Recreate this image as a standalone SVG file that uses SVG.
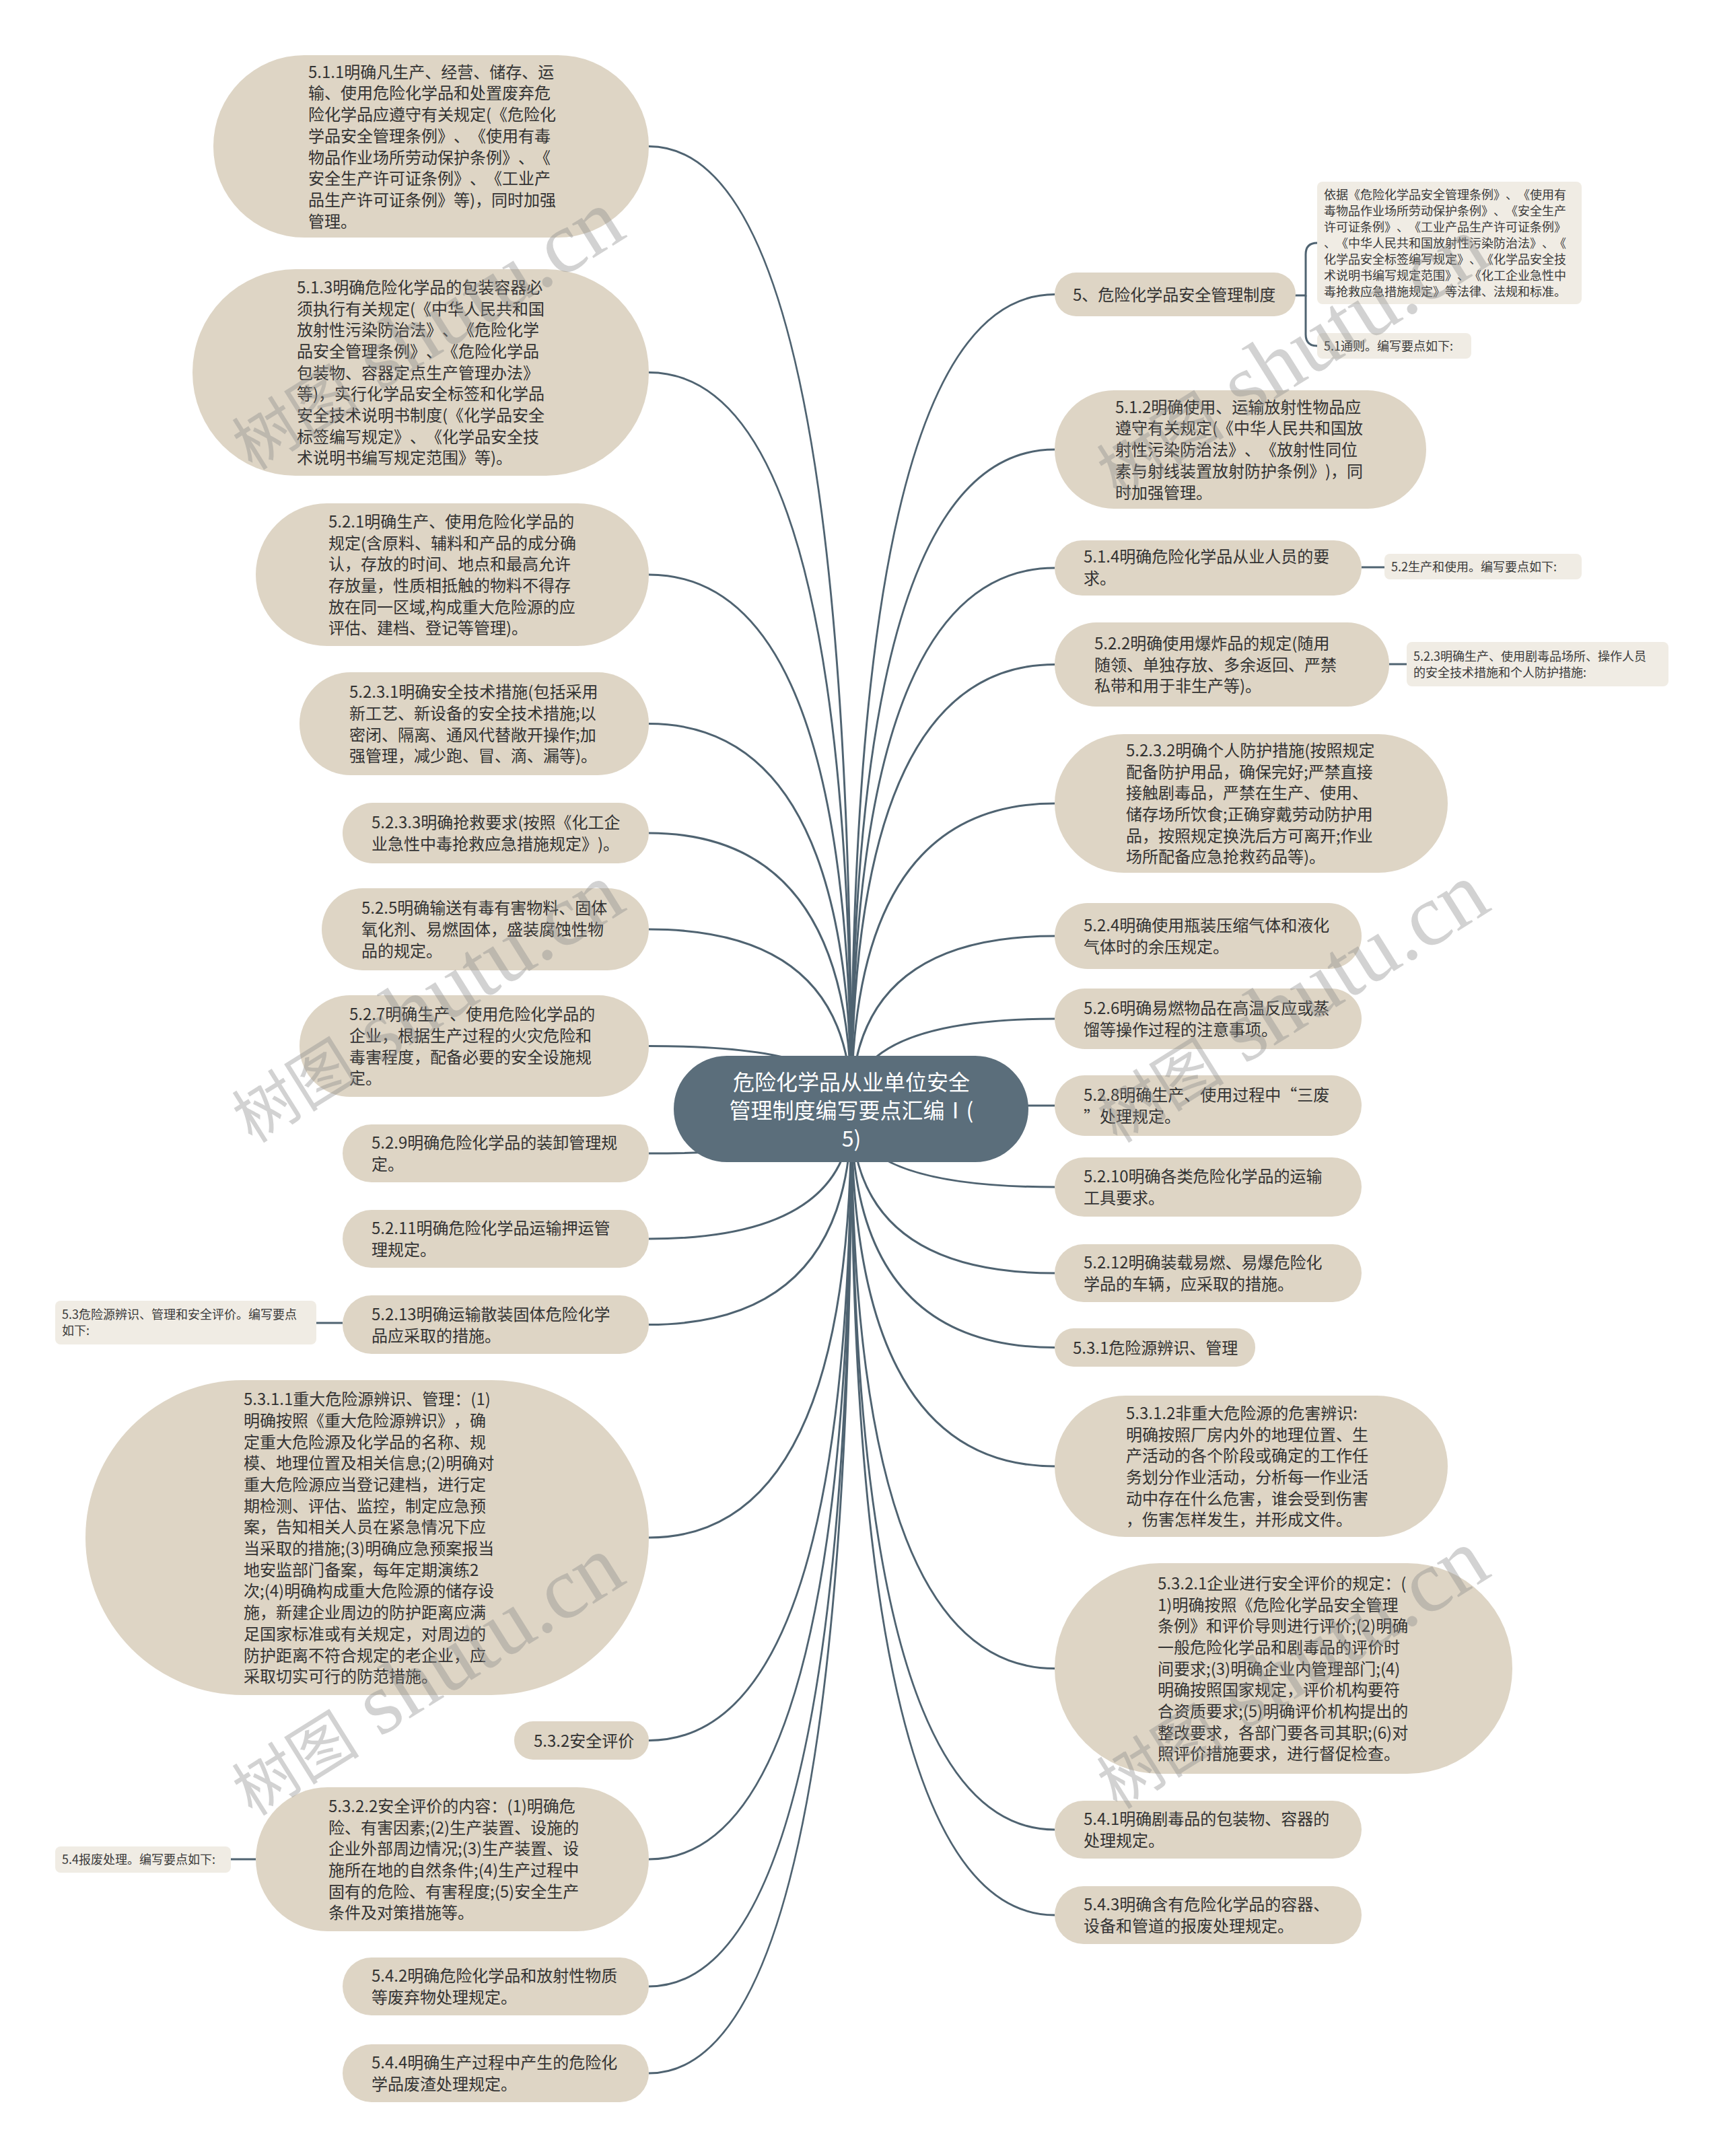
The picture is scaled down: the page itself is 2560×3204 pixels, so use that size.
<svg xmlns="http://www.w3.org/2000/svg" width="2560" height="3204" viewBox="0 0 2560 3204">
<style>
.node{fill:#ded5c5}
.lbl{fill:#f0ece4}
.root{fill:#5b6e7b}
.t,.ts,.tr{text-spacing-trim:space-all;font-feature-settings:"chws" 0,"halt" 0}
.t{font-family:"Noto Sans CJK SC","Noto Sans",sans-serif;font-size:24px;fill:#333333}
.ts{font-family:"Noto Sans CJK SC","Noto Sans",sans-serif;font-size:18px;fill:#3a3a3a}
.tr{font-family:"Noto Sans CJK SC","Noto Sans",sans-serif;font-size:32px;fill:#ffffff;text-anchor:middle}
.edge{fill:none;stroke:#4f6371;stroke-width:3}
.wm{font-family:"Liberation Serif","Noto Sans CJK SC",serif;fill:#8a8a8a;opacity:0.38}
</style>
<rect width="2560" height="3204" fill="#ffffff"/>
<g id="connectors">
<path class="edge" d="M1265,1648 Q1265,217.5 964,217.5"/>
<path class="edge" d="M1265,1648 Q1265,553.5 964,553.5"/>
<path class="edge" d="M1265,1648 Q1265,854 964,854"/>
<path class="edge" d="M1265,1648 Q1265,1075.5 964,1075.5"/>
<path class="edge" d="M1265,1648 Q1265,1238 964,1238"/>
<path class="edge" d="M1265,1648 Q1265,1381 964,1381"/>
<path class="edge" d="M1265,1648 Q1265,1554.5 964,1554.5"/>
<path class="edge" d="M1265,1648 Q1265,1714 964,1714"/>
<path class="edge" d="M1265,1648 Q1265,1841 964,1841"/>
<path class="edge" d="M1265,1648 Q1265,1968.5 964,1968.5"/>
<path class="edge" d="M1265,1648 Q1265,2285 964,2285"/>
<path class="edge" d="M1265,1648 Q1265,2586.5 964,2586.5"/>
<path class="edge" d="M1265,1648 Q1265,2763 964,2763"/>
<path class="edge" d="M1265,1648 Q1265,2952 964,2952"/>
<path class="edge" d="M1265,1648 Q1265,3081 964,3081"/>
<path class="edge" d="M1265,1648 Q1265,437.5 1567,437.5"/>
<path class="edge" d="M1265,1648 Q1265,668 1567,668"/>
<path class="edge" d="M1265,1648 Q1265,844 1567,844"/>
<path class="edge" d="M1265,1648 Q1265,987.5 1567,987.5"/>
<path class="edge" d="M1265,1648 Q1265,1194 1567,1194"/>
<path class="edge" d="M1265,1648 Q1265,1391 1567,1391"/>
<path class="edge" d="M1265,1648 Q1265,1514 1567,1514"/>
<path class="edge" d="M1265,1648 Q1265,1643 1567,1643"/>
<path class="edge" d="M1265,1648 Q1265,1764 1567,1764"/>
<path class="edge" d="M1265,1648 Q1265,1892 1567,1892"/>
<path class="edge" d="M1265,1648 Q1265,2002.5 1567,2002.5"/>
<path class="edge" d="M1265,1648 Q1265,2179 1567,2179"/>
<path class="edge" d="M1265,1648 Q1265,2479.5 1567,2479.5"/>
<path class="edge" d="M1265,1648 Q1265,2719 1567,2719"/>
<path class="edge" d="M1265,1648 Q1265,2846 1567,2846"/>
<path class="edge" d="M1922,439 H1940 V378 Q1940,361 1957,361"/>
<path class="edge" d="M1940,439 V497 Q1940,514 1957,514"/>
<path class="edge" d="M2023,843 H2057"/>
<path class="edge" d="M2064,987 H2090"/>
<path class="edge" d="M470,1966 H509"/>
<path class="edge" d="M343,2763 H380"/>
</g>

<g id="root">
<rect class="root" x="1001" y="1569" width="527" height="158" rx="79"/>
<text class="tr"><tspan x="1265" y="1620">危险化学品从业单位安全</tspan><tspan x="1265" y="1662">管理制度编写要点汇编Ⅰ(</tspan><tspan x="1265" y="1704">5)</tspan></text>
</g>

<g id="n-5-1-1">
<rect class="node" x="317" y="82" width="647" height="271" rx="135"/>
<text class="t"><tspan x="458" y="115.7">5.1.1明确凡生产、经营、储存、运</tspan><tspan x="458" y="147.4">输、使用危险化学品和处置废弃危</tspan><tspan x="458" y="179.1">险化学品应遵守有关规定(《危险化</tspan><tspan x="458" y="210.8">学品安全管理条例》、《使用有毒</tspan><tspan x="458" y="242.5">物品作业场所劳动保护条例》、《</tspan><tspan x="458" y="274.2">安全生产许可证条例》、《工业产</tspan><tspan x="458" y="305.9">品生产许可证条例》等)，同时加强</tspan><tspan x="458" y="337.6">管理。</tspan></text>
</g>

<g id="n-5-1-3">
<rect class="node" x="286" y="400" width="678" height="307" rx="153"/>
<text class="t"><tspan x="441" y="435.8">5.1.3明确危险化学品的包装容器必</tspan><tspan x="441" y="467.5">须执行有关规定(《中华人民共和国</tspan><tspan x="441" y="499.2">放射性污染防治法》、《危险化学</tspan><tspan x="441" y="530.9">品安全管理条例》、《危险化学品</tspan><tspan x="441" y="562.6">包装物、容器定点生产管理办法》</tspan><tspan x="441" y="594.3">等)，实行化学品安全标签和化学品</tspan><tspan x="441" y="626">安全技术说明书制度(《化学品安全</tspan><tspan x="441" y="657.7">标签编写规定》、《化学品安全技</tspan><tspan x="441" y="689.4">术说明书编写规定范围》等)。</tspan></text>
</g>

<g id="n-5-2-1">
<rect class="node" x="380" y="748" width="584" height="212" rx="106"/>
<text class="t"><tspan x="488" y="783.9">5.2.1明确生产、使用危险化学品的</tspan><tspan x="488" y="815.6">规定(含原料、辅料和产品的成分确</tspan><tspan x="488" y="847.3">认，存放的时间、地点和最高允许</tspan><tspan x="488" y="879">存放量，性质相抵触的物料不得存</tspan><tspan x="488" y="910.7">放在同一区域,构成重大危险源的应</tspan><tspan x="488" y="942.4">评估、建档、登记等管理)。</tspan></text>
</g>

<g id="n-5-2-3-1">
<rect class="node" x="445" y="999" width="519" height="153" rx="76"/>
<text class="t"><tspan x="519" y="1037.1">5.2.3.1明确安全技术措施(包括采用</tspan><tspan x="519" y="1068.8">新工艺、新设备的安全技术措施;以</tspan><tspan x="519" y="1100.5">密闭、隔离、通风代替敞开操作;加</tspan><tspan x="519" y="1132.2">强管理，减少跑、冒、滴、漏等)。</tspan></text>
</g>

<g id="n-5-2-3-3">
<rect class="node" x="509" y="1193" width="455" height="90" rx="45"/>
<text class="t"><tspan x="552" y="1231.3">5.2.3.3明确抢救要求(按照《化工企</tspan><tspan x="552" y="1263">业急性中毒抢救应急措施规定》)。</tspan></text>
</g>

<g id="n-5-2-5">
<rect class="node" x="478" y="1320" width="486" height="122" rx="61"/>
<text class="t"><tspan x="537" y="1358.4">5.2.5明确输送有毒有害物料、固体</tspan><tspan x="537" y="1390.1">氧化剂、易燃固体，盛装腐蚀性物</tspan><tspan x="537" y="1421.8">品的规定。</tspan></text>
</g>

<g id="n-5-2-7">
<rect class="node" x="445" y="1479" width="519" height="151" rx="75"/>
<text class="t"><tspan x="519" y="1516.1">5.2.7明确生产、使用危险化学品的</tspan><tspan x="519" y="1547.8">企业，根据生产过程的火灾危险和</tspan><tspan x="519" y="1579.5">毒害程度，配备必要的安全设施规</tspan><tspan x="519" y="1611.2">定。</tspan></text>
</g>

<g id="n-5-2-9">
<rect class="node" x="509" y="1671" width="455" height="86" rx="43"/>
<text class="t"><tspan x="552" y="1707.3">5.2.9明确危险化学品的装卸管理规</tspan><tspan x="552" y="1739">定。</tspan></text>
</g>

<g id="n-5-2-11">
<rect class="node" x="509" y="1798" width="455" height="86" rx="43"/>
<text class="t"><tspan x="552" y="1834.3">5.2.11明确危险化学品运输押运管</tspan><tspan x="552" y="1866">理规定。</tspan></text>
</g>

<g id="n-5-2-13">
<rect class="node" x="509" y="1925" width="455" height="87" rx="43"/>
<text class="t"><tspan x="552" y="1961.8">5.2.13明确运输散装固体危险化学</tspan><tspan x="552" y="1993.5">品应采取的措施。</tspan></text>
</g>

<g id="n-5-3">
<rect class="lbl" x="82" y="1933" width="388" height="65" rx="8"/>
<text class="ts"><tspan x="92" y="1960.3">5.3危险源辨识、管理和安全评价。编写要点</tspan><tspan x="92" y="1984.2">如下:</tspan></text>
</g>

<g id="n-5-3-1-1">
<rect class="node" x="127" y="2051" width="837" height="468" rx="234"/>
<text class="t"><tspan x="362" y="2088.1">5.3.1.1重大危险源辨识、管理：(1)</tspan><tspan x="362" y="2119.8">明确按照《重大危险源辨识》，确</tspan><tspan x="362" y="2151.5">定重大危险源及化学品的名称、规</tspan><tspan x="362" y="2183.2">模、地理位置及相关信息;(2)明确对</tspan><tspan x="362" y="2214.9">重大危险源应当登记建档，进行定</tspan><tspan x="362" y="2246.6">期检测、评估、监控，制定应急预</tspan><tspan x="362" y="2278.3">案，告知相关人员在紧急情况下应</tspan><tspan x="362" y="2310">当采取的措施;(3)明确应急预案报当</tspan><tspan x="362" y="2341.7">地安监部门备案，每年定期演练2</tspan><tspan x="362" y="2373.4">次;(4)明确构成重大危险源的储存设</tspan><tspan x="362" y="2405.1">施，新建企业周边的防护距离应满</tspan><tspan x="362" y="2436.8">足国家标准或有关规定，对周边的</tspan><tspan x="362" y="2468.5">防护距离不符合规定的老企业，应</tspan><tspan x="362" y="2500.2">采取切实可行的防范措施。</tspan></text>
</g>

<g id="n-5-3-2">
<rect class="node" x="764" y="2558" width="200" height="57" rx="28"/>
<text class="t"><tspan x="793" y="2595.6">5.3.2安全评价</tspan></text>
</g>

<g id="n-5-3-2-2">
<rect class="node" x="380" y="2656" width="584" height="214" rx="107"/>
<text class="t"><tspan x="488" y="2692.9">5.3.2.2安全评价的内容：(1)明确危</tspan><tspan x="488" y="2724.6">险、有害因素;(2)生产装置、设施的</tspan><tspan x="488" y="2756.3">企业外部周边情况;(3)生产装置、设</tspan><tspan x="488" y="2788">施所在地的自然条件;(4)生产过程中</tspan><tspan x="488" y="2819.7">固有的危险、有害程度;(5)安全生产</tspan><tspan x="488" y="2851.4">条件及对策措施等。</tspan></text>
</g>

<g id="n-5-4">
<rect class="lbl" x="82" y="2744" width="261" height="39" rx="8"/>
<text class="ts"><tspan x="92" y="2770.3">5.4报废处理。编写要点如下:</tspan></text>
</g>

<g id="n-5-4-2">
<rect class="node" x="509" y="2909" width="455" height="86" rx="43"/>
<text class="t"><tspan x="552" y="2945.3">5.4.2明确危险化学品和放射性物质</tspan><tspan x="552" y="2977">等废弃物处理规定。</tspan></text>
</g>

<g id="n-5-4-4">
<rect class="node" x="509" y="3038" width="455" height="86" rx="43"/>
<text class="t"><tspan x="552" y="3074.3">5.4.4明确生产过程中产生的危险化</tspan><tspan x="552" y="3106">学品废渣处理规定。</tspan></text>
</g>

<g id="n-5">
<rect class="node" x="1567" y="405" width="358" height="65" rx="32"/>
<text class="t"><tspan x="1594" y="446.6">5、危险化学品安全管理制度</tspan></text>
</g>

<g id="n-5-basis">
<rect class="lbl" x="1957" y="270" width="393" height="182" rx="8"/>
<text class="ts"><tspan x="1967" y="296.1">依据《危险化学品安全管理条例》、《使用有</tspan><tspan x="1967" y="320">毒物品作业场所劳动保护条例》、《安全生产</tspan><tspan x="1967" y="343.9">许可证条例》、《工业产品生产许可证条例》</tspan><tspan x="1967" y="367.8">、《中华人民共和国放射性污染防治法》、《</tspan><tspan x="1967" y="391.7">化学品安全标签编写规定》、《化学品安全技</tspan><tspan x="1967" y="415.6">术说明书编写规定范围》、《化工企业急性中</tspan><tspan x="1967" y="439.5">毒抢救应急措施规定》等法律、法规和标准。</tspan></text>
</g>

<g id="n-5-1">
<rect class="lbl" x="1957" y="495" width="229" height="38" rx="8"/>
<text class="ts"><tspan x="1967" y="520.8">5.1通则。编写要点如下:</tspan></text>
</g>

<g id="n-5-1-2">
<rect class="node" x="1567" y="580" width="552" height="176" rx="88"/>
<text class="t"><tspan x="1657" y="613.7">5.1.2明确使用、运输放射性物品应</tspan><tspan x="1657" y="645.4">遵守有关规定(《中华人民共和国放</tspan><tspan x="1657" y="677.1">射性污染防治法》、《放射性同位</tspan><tspan x="1657" y="708.8">素与射线装置放射防护条例》)，同</tspan><tspan x="1657" y="740.5">时加强管理。</tspan></text>
</g>

<g id="n-5-1-4">
<rect class="node" x="1567" y="803" width="456" height="82" rx="41"/>
<text class="t"><tspan x="1610" y="836">5.1.4明确危险化学品从业人员的要</tspan><tspan x="1610" y="867.7">求。</tspan></text>
</g>

<g id="n-5-2">
<rect class="lbl" x="2057" y="823" width="293" height="38" rx="8"/>
<text class="ts"><tspan x="2067" y="848.8">5.2生产和使用。编写要点如下:</tspan></text>
</g>

<g id="n-5-2-2">
<rect class="node" x="1567" y="925" width="497" height="125" rx="62"/>
<text class="t"><tspan x="1626" y="964.9">5.2.2明确使用爆炸品的规定(随用</tspan><tspan x="1626" y="996.6">随领、单独存放、多余返回、严禁</tspan><tspan x="1626" y="1028.3">私带和用于非生产等)。</tspan></text>
</g>

<g id="n-5-2-3">
<rect class="lbl" x="2090" y="954" width="389" height="66" rx="8"/>
<text class="ts"><tspan x="2100" y="981.9">5.2.3明确生产、使用剧毒品场所、操作人员</tspan><tspan x="2100" y="1005.8">的安全技术措施和个人防护措施:</tspan></text>
</g>

<g id="n-5-2-3-2">
<rect class="node" x="1567" y="1091" width="584" height="206" rx="103"/>
<text class="t"><tspan x="1673" y="1123.9">5.2.3.2明确个人防护措施(按照规定</tspan><tspan x="1673" y="1155.6">配备防护用品，确保完好;严禁直接</tspan><tspan x="1673" y="1187.3">接触剧毒品，严禁在生产、使用、</tspan><tspan x="1673" y="1219">储存场所饮食;正确穿戴劳动防护用</tspan><tspan x="1673" y="1250.7">品，按照规定换洗后方可离开;作业</tspan><tspan x="1673" y="1282.4">场所配备应急抢救药品等)。</tspan></text>
</g>

<g id="n-5-2-4">
<rect class="node" x="1567" y="1342" width="456" height="98" rx="49"/>
<text class="t"><tspan x="1610" y="1384.3">5.2.4明确使用瓶装压缩气体和液化</tspan><tspan x="1610" y="1416">气体时的余压规定。</tspan></text>
</g>

<g id="n-5-2-6">
<rect class="node" x="1567" y="1469" width="456" height="90" rx="45"/>
<text class="t"><tspan x="1610" y="1507.3">5.2.6明确易燃物品在高温反应或蒸</tspan><tspan x="1610" y="1539">馏等操作过程的注意事项。</tspan></text>
</g>

<g id="n-5-2-8">
<rect class="node" x="1567" y="1598" width="456" height="90" rx="45"/>
<text class="t"><tspan x="1610" y="1636.3">5.2.8明确生产、使用过程中“三废</tspan><tspan x="1610" y="1668">”处理规定。</tspan></text>
</g>

<g id="n-5-2-10">
<rect class="node" x="1567" y="1720" width="456" height="88" rx="44"/>
<text class="t"><tspan x="1610" y="1757.3">5.2.10明确各类危险化学品的运输</tspan><tspan x="1610" y="1789">工具要求。</tspan></text>
</g>

<g id="n-5-2-12">
<rect class="node" x="1567" y="1849" width="456" height="86" rx="43"/>
<text class="t"><tspan x="1610" y="1885.3">5.2.12明确装载易燃、易爆危险化</tspan><tspan x="1610" y="1917">学品的车辆，应采取的措施。</tspan></text>
</g>

<g id="n-5-3-1">
<rect class="node" x="1567" y="1974" width="298" height="57" rx="28"/>
<text class="t"><tspan x="1594" y="2011.6">5.3.1危险源辨识、管理</tspan></text>
</g>

<g id="n-5-3-1-2">
<rect class="node" x="1567" y="2074" width="584" height="210" rx="105"/>
<text class="t"><tspan x="1673" y="2108.9">5.3.1.2非重大危险源的危害辨识:</tspan><tspan x="1673" y="2140.6">明确按照厂房内外的地理位置、生</tspan><tspan x="1673" y="2172.3">产活动的各个阶段或确定的工作任</tspan><tspan x="1673" y="2204">务划分作业活动，分析每一作业活</tspan><tspan x="1673" y="2235.7">动中存在什么危害，谁会受到伤害</tspan><tspan x="1673" y="2267.4">，伤害怎样发生，并形成文件。</tspan></text>
</g>

<g id="n-5-3-2-1">
<rect class="node" x="1567" y="2323" width="680" height="313" rx="156"/>
<text class="t"><tspan x="1720" y="2361.8">5.3.2.1企业进行安全评价的规定：(</tspan><tspan x="1720" y="2393.5">1)明确按照《危险化学品安全管理</tspan><tspan x="1720" y="2425.2">条例》和评价导则进行评价;(2)明确</tspan><tspan x="1720" y="2456.9">一般危险化学品和剧毒品的评价时</tspan><tspan x="1720" y="2488.6">间要求;(3)明确企业内管理部门;(4)</tspan><tspan x="1720" y="2520.3">明确按照国家规定，评价机构要符</tspan><tspan x="1720" y="2552">合资质要求;(5)明确评价机构提出的</tspan><tspan x="1720" y="2583.7">整改要求，各部门要各司其职;(6)对</tspan><tspan x="1720" y="2615.4">照评价措施要求，进行督促检查。</tspan></text>
</g>

<g id="n-5-4-1">
<rect class="node" x="1567" y="2676" width="456" height="86" rx="43"/>
<text class="t"><tspan x="1610" y="2712.3">5.4.1明确剧毒品的包装物、容器的</tspan><tspan x="1610" y="2744">处理规定。</tspan></text>
</g>

<g id="n-5-4-3">
<rect class="node" x="1567" y="2803" width="456" height="86" rx="43"/>
<text class="t"><tspan x="1610" y="2839.3">5.4.3明确含有危险化学品的容器、</tspan><tspan x="1610" y="2871">设备和管道的报废处理规定。</tspan></text>
</g>

<g id="watermarks">
<text class="wm" transform="translate(375,700) rotate(-32)"><tspan font-size="95">树图</tspan><tspan font-size="130"> shutu.cn</tspan></text>
<text class="wm" transform="translate(375,1700) rotate(-32)"><tspan font-size="95">树图</tspan><tspan font-size="130"> shutu.cn</tspan></text>
<text class="wm" transform="translate(375,2700) rotate(-32)"><tspan font-size="95">树图</tspan><tspan font-size="130"> shutu.cn</tspan></text>
<text class="wm" transform="translate(1660,740) rotate(-32)"><tspan font-size="95">树图</tspan><tspan font-size="130"> shutu.cn</tspan></text>
<text class="wm" transform="translate(1660,1700) rotate(-32)"><tspan font-size="95">树图</tspan><tspan font-size="130"> shutu.cn</tspan></text>
<text class="wm" transform="translate(1660,2690) rotate(-32)"><tspan font-size="95">树图</tspan><tspan font-size="130"> shutu.cn</tspan></text>
</g>
</svg>
